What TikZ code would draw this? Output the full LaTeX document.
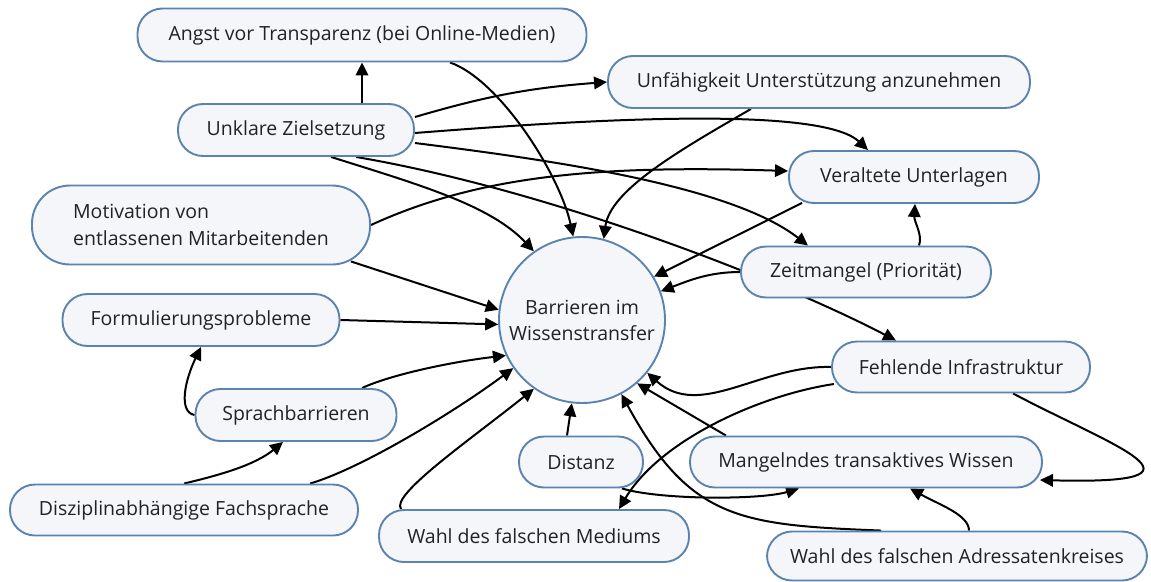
\documentclass[tikz,border=0pt]{standalone}
\usepackage{fontspec}
\setmainfont{Open Sans}
\usetikzlibrary{arrows.meta,calc,backgrounds}
\definecolor{bcol}{HTML}{5A83B0}
\definecolor{fcol}{HTML}{F4F6F9}
\definecolor{tcol}{HTML}{222222}
\begin{document}
\begin{tikzpicture}[x=1pt,y=-1pt,
 box/.style={draw=bcol, line width=1.9pt, fill=fcol, rounded corners=25pt, inner sep=0pt, text=tcol, font=\fontsize{19.5}{27}\selectfont},
 arr/.style={-{Triangle[length=13pt,width=12.5pt]}, line width=2pt, black}]
\useasboundingbox (0,0) rectangle (1151,581);
\node[box, minimum width=449pt, minimum height=53pt] (angst) at (362,35) {Angst vor Transparenz (bei Online-Medien)};
\node[box, minimum width=236pt, minimum height=52pt] (unklare) at (296,130) {Unklare Zielsetzung};
\node[box, minimum width=422pt, minimum height=52pt] (unf) at (819,82) {Unfähigkeit Unterstützung anzunehmen};
\node[box, minimum width=250pt, minimum height=52pt] (vera) at (914,177) {Veraltete Unterlagen};
\node[box, minimum width=250pt, minimum height=51pt] (zeit) at (866,272) {Zeitmangel (Priorität)};
\node[box, minimum width=338pt, minimum height=79pt, rounded corners=38pt, align=left] (motiv) at (201,225) {Motivation von\\entlassenen Mitarbeitenden};
\node[box, minimum width=277pt, minimum height=52pt] (formul) at (201,320) {Formulierungsprobleme};
\node[box, minimum width=201pt, minimum height=52pt] (sprach) at (296,415) {Sprachbarrieren};
\node[box, minimum width=348pt, minimum height=51pt] (diszi) at (184,510) {Disziplinabhängige Fachsprache};
\node[box, minimum width=310pt, minimum height=52pt] (medium) at (534,536) {Wahl des falschen Mediums};
\node[box, minimum width=124pt, minimum height=51pt] (distanz) at (581,462) {Distanz};
\node[box, minimum width=258pt, minimum height=51pt] (fehl) at (961,367) {Fehlende Infrastruktur};
\node[box, minimum width=352pt, minimum height=51pt] (mang) at (866,462) {Mangelndes transaktives Wissen};
\node[box, minimum width=380pt, minimum height=49pt] (adress) at (957,556) {Wahl des falschen Adressatenkreises};
\node[box, circle, minimum size=166pt, align=center, font=\fontsize{19.5}{26}\selectfont] (c) at (582,320) {Barrieren im\\Wissenstransfer};
\begin{scope}[on background layer]
\draw[arr] ($(unklare.north)+(66,0)$) -- (angst.south);
\draw[arr] ($(angst.south)+(88,0)$) .. controls (500,80) and (560,175) .. (c.96);
\draw[arr] ($(unklare.east)+(0,-13)$) to[bend left=6] (unf.west);
\draw[arr] ($(unklare.east)+(0,3)$) .. controls (580,120) and (820,105) .. ($(vera.north)+(-46,0)$);
\draw[arr] ($(unklare.east)+(0,13)$) .. controls (550,160) and (730,185) .. ($(zeit.north)+(-58,0)$);
\draw[arr] ($(unklare.south)+(35,0)$) .. controls (420,185) and (490,205) .. (c.125);
\draw[arr] ($(unklare.south)+(60,0)$) .. controls (550,190) and (780,280) .. ($(fehl.north)+(-65,0)$);
\draw[arr] (motiv.east) .. controls (480,175) and (600,165) .. ($(vera.west)+(0,-6)$);
\draw[arr] ($(motiv.south east)+(-20,-4)$) -- (c.173);
\draw[arr] ($(unf.south)+(-68,0)$) .. controls (680,150) and (610,190) .. (c.75);
\draw[arr] ($(vera.south west)+(14,-1)$) -- (c.31);
\draw[arr] (zeit.west) .. controls (710,272) and (690,280) .. (c.20);
\draw[arr] ($(zeit.north)+(53,0)$) .. controls (923,235) and (914,222) .. ($(vera.south)+(1,0)$);
\draw[arr] (formul.east) -- (c.183);
\draw[arr] ($(sprach.north)+(66,0)$) .. controls (390,375) and (450,362) .. (c.205);
\draw[arr] (sprach.west) .. controls (178,412) and (185,380) .. (formul.south);
\draw[arr] (diszi.north) .. controls (220,475) and (255,465) .. ($(sprach.south)+(-13,0)$);
\draw[arr] ($(diszi.north)+(126,0)$) .. controls (360,469) and (453,413) .. (c.215);
\draw[arr] ($(medium.north west)+(23,0)$) .. controls (390,495) and (470,440) .. (c.235);
\draw[arr] ($(distanz.north)+(-14,0)$) -- (c.263);
\draw[arr] ($(distanz.south east)+(-22,0)$) .. controls (660,500) and (760,500) .. ($(mang.south)+(-67,0)$);
\draw[arr] (fehl.west) .. controls (760,365) and (700,420) .. (c.-39);
\draw[arr] ($(fehl.west)+(3,17)$) .. controls (760,395) and (660,440) .. ($(medium.north)+(85,0)$);
\draw[arr] ($(fehl.south)+(52,0)$) .. controls (1110,445) and (1230,485) .. ($(mang.east)+(-3,18)$);
\draw[arr] ($(mang.north)+(-140,0)$) -- (c.-49);
\draw[arr] ($(adress.north)+(-76,0)$) .. controls (740,525) and (690,520) .. (c.-62);
\draw[arr] ($(adress.north)+(12,0)$) .. controls (969,515) and (940,505) .. ($(mang.south)+(44,0)$);
\end{scope}
\end{tikzpicture}
\end{document}
